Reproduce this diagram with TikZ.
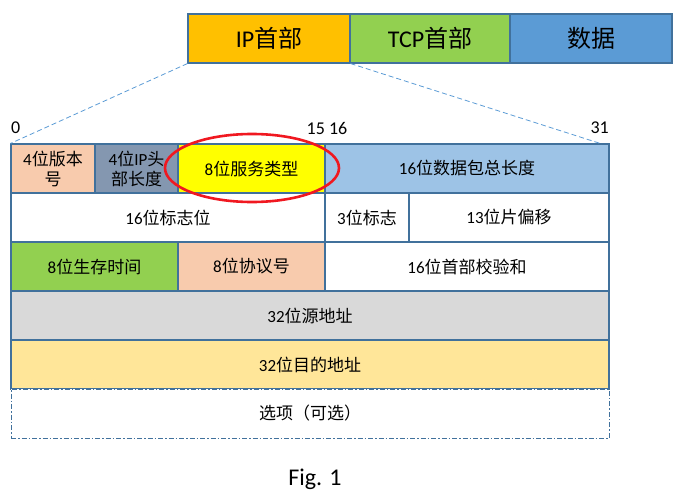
\documentclass[tikz,border=0pt]{standalone}
\usepackage{fontspec}
\setmainfont{Noto Sans CJK SC}
\newfontfamily\latin{Carlito}
\usepackage{xcolor}
\usetikzlibrary{}

\definecolor{edgeblue}{HTML}{41719C}
\definecolor{linkblue}{HTML}{5B9BD5}
\definecolor{ipfill}{HTML}{FFC000}
\definecolor{tcpfill}{HTML}{92D050}
\definecolor{datafill}{HTML}{5B9BD5}
\definecolor{verfill}{HTML}{F8CBAD}
\definecolor{ihlfill}{HTML}{8497B0}
\definecolor{tosfill}{HTML}{FFFF00}
\definecolor{lenfill}{HTML}{9DC3E6}
\definecolor{ttlfill}{HTML}{92D050}
\definecolor{srcfill}{HTML}{D9D9D9}
\definecolor{dstfill}{HTML}{FFE699}
\definecolor{ringred}{HTML}{F01820}

\tikzset{
	headbox/.style={draw=edgeblue,line width=1.1pt,inner sep=0pt,minimum height=49pt,font=\fontsize{24}{28}\selectfont},
	field/.style={draw=edgeblue,line width=1.1pt,inner sep=0pt,minimum height=49pt,align=center,font=\fontsize{17}{20}\selectfont},
	optfield/.style={field,draw=edgeblue,line width=0.8pt,dash pattern=on 5pt off 2pt on 1.5pt off 2pt},
	bitno/.style={inner sep=0pt,font=\latin\fontsize{18}{20}\selectfont},
	zoomline/.style={draw=linkblue,line width=0.8pt,dash pattern=on 5pt off 3pt},
	ring/.style={draw=ringred,line width=2.6pt}
}

\begin{document}
\begin{tikzpicture}[x=1pt,y=1pt]
		\useasboundingbox (0,0) rectangle (683,-498);
		
		\node[headbox,fill=ipfill,minimum width=162pt] (ip) at (269,-38.5){{\latin IP}首部};
		\node[headbox,fill=tcpfill,minimum width=160pt] (tcp) at (430,-38.5){{\latin TCP}首部};
		\node[headbox,fill=datafill,minimum width=162pt] (data) at (591,-38.5){数据};
		
		\node[bitno,anchor=west] (b0) at (11,-128){0};
		\node[bitno] (b15) at (327,-128){15 16};
		\node[bitno,anchor=east] (b31) at (609,-128){31};
		
		\node[field,fill=verfill,minimum width=84pt] (ver) at (53,-168.5){{\latin 4}位版本\\号};
		\node[field,fill=ihlfill,minimum width=83pt] (ihl) at (136.5,-168.5){{\latin 4}位{\latin IP}头\\部长度};
		\node[field,fill=tosfill,minimum width=147pt] (tos) at (251.5,-168.5){{\latin 8}位服务类型};
		\node[field,fill=lenfill,minimum width=284pt] (len) at (467,-168.5){{\latin 16}位数据包总长度};
		
		\node[field,minimum width=314pt] (ident) at (168,-217.5){{\latin 16}位标志位};
		\node[field,minimum width=84pt] (flags) at (367,-217.5){{\latin 3}位标志};
		\node[field,minimum width=200pt] (frag) at (509,-217.5){{\latin 13}位片偏移};
		
		\node[field,fill=ttlfill,minimum width=167pt] (ttl) at (94.5,-266.5){{\latin 8}位生存时间};
		\node[field,fill=verfill,minimum width=147pt] (proto) at (251.5,-266.5){{\latin 8}位协议号};
		\node[field,minimum width=284pt] (csum) at (467,-266.5){{\latin 16}位首部校验和};
		
		\node[field,fill=srcfill,minimum width=598pt] (src) at (310,-315.5){{\latin 32}位源地址};
		\node[field,fill=dstfill,minimum width=598pt] (dst) at (310,-364.5){{\latin 32}位目的地址};
		\node[optfield,fill=white,minimum width=598pt] (opt) at (310,-413.5){选项（可选）};
		
		\coordinate (r31) at (602,-144);
		\draw[zoomline] (ip.south west) -- (ver.north west);
		\draw[zoomline] (ip.south east) -- (r31);
		
		\draw[ring] (252,-168) ellipse (87 and 34);
		
		\node[font=\latin\fontsize{24}{28}\selectfont] (fig) at (315,-479){Fig. 1};
	\end{tikzpicture}
\end{document}
